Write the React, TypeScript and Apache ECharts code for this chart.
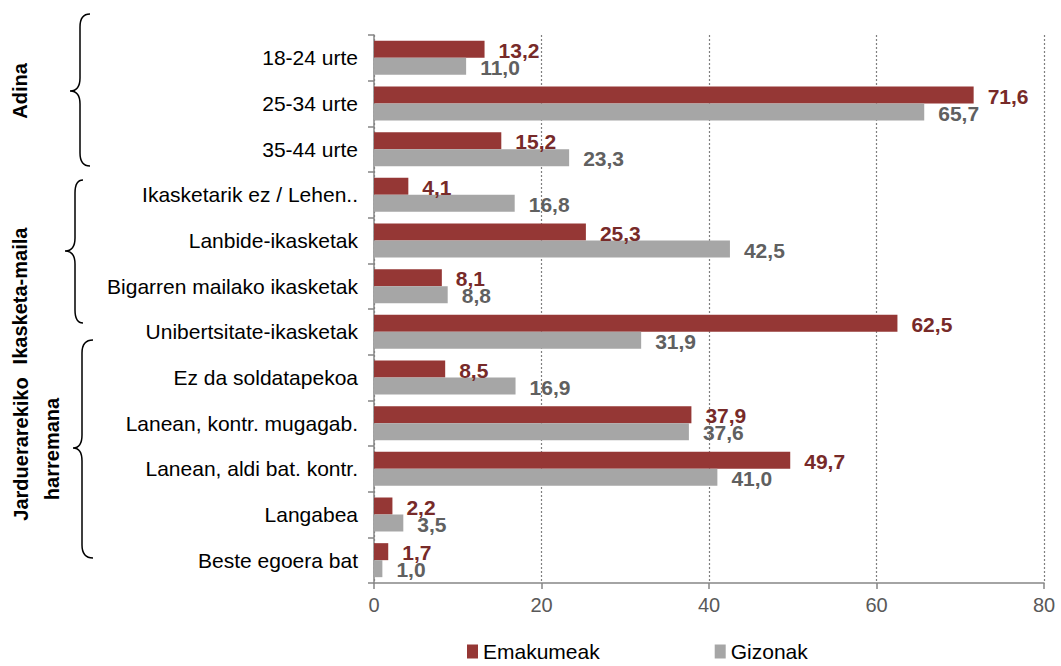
import React, { useEffect, useRef } from "react";
import * as echarts from "echarts";

const categories = [
  "18-24 urte",
  "25-34 urte",
  "35-44 urte",
  "Ikasketarik ez / Lehen..",
  "Lanbide-ikasketak",
  "Bigarren mailako ikasketak",
  "Unibertsitate-ikasketak",
  "Ez da soldatapekoa",
  "Lanean, kontr. mugagab.",
  "Lanean, aldi bat. kontr.",
  "Langabea",
  "Beste egoera bat",
];
const womenValues = [13.2, 71.6, 15.2, 4.1, 25.3, 8.1, 62.5, 8.5, 37.9, 49.7, 2.2, 1.7];
const menValues = [11.0, 65.7, 23.3, 16.8, 42.5, 8.8, 31.9, 16.9, 37.6, 41.0, 3.5, 1.0];
const seriesNames = ["Emakumeak", "Gizonak"];
const xMin = 0;
const xMax = 80;
const xInterval = 20;
const groupLabels = ["Adina", "Ikasketa-maila", "Jarduerarekiko\nharremana"];

function bracePath(ax: number, vx: number, px: number, t: number, m: number, b: number, r: number) {
  return (
    `M ${ax} ${t} Q ${vx} ${t} ${vx} ${t + r} L ${vx} ${m - r} ` +
    `Q ${vx} ${m} ${px} ${m} Q ${vx} ${m} ${vx} ${m + r} ` +
    `L ${vx} ${b - r} Q ${vx} ${b} ${ax} ${b}`
  );
}

export default function App() {
  const ref = useRef<HTMLDivElement>(null);
  useEffect(() => {
    if (!ref.current) return;
    const braces = [
      { ax: 90, vx: 80, px: 70, t: 14, m: 91, b: 166 },
      { ax: 83, vx: 75, px: 65, t: 180, m: 251, b: 323 },
      { ax: 93, vx: 82, px: 73, t: 340, m: 448, b: 558 },
    ];
    braces.forEach((bb, i) => {
      echarts.graphic.registerShape(
        "brace" + i,
        echarts.graphic.extendPath(bracePath(bb.ax, bb.vx, bb.px, bb.t, bb.m, bb.b, 13), {})
      );
    });
    const chart = echarts.init(ref.current, null, { renderer: "svg" });
    const fmt = (p: any) => Number(p.value).toFixed(1).replace(".", ",");
    const font = "'Liberation Sans', Arial, sans-serif";
    const groupPos = [
      { x: 20, y: 91 },
      { x: 20, y: 296 },
      { x: 36, y: 449 },
    ];
    chart.setOption({
      animation: false,
      backgroundColor: "#ffffff",
      textStyle: { fontFamily: font },
      grid: { left: 374, right: 17, top: 35, bottom: 83, containLabel: false },
      legend: {
        data: seriesNames,
        left: 467,
        top: 641,
        icon: "rect",
        itemWidth: 11,
        itemHeight: 14,
        itemGap: 115,
        padding: 0,
        textStyle: { fontSize: 21, color: "#000", fontFamily: font },
      },
      xAxis: {
        type: "value",
        min: xMin,
        max: xMax,
        interval: xInterval,
        axisLine: { show: true, lineStyle: { color: "#868686", width: 1.5 } },
        axisTick: { show: true, length: 6, lineStyle: { color: "#868686", width: 1.5 } },
        axisLabel: {
          margin: 12,
          fontSize: 20,
          color: "#595959",
          fontFamily: font,
        },
        splitLine: { show: true, lineStyle: { color: "#7f7f7f", type: [2, 2], width: 1.2 } },
      },
      yAxis: {
        type: "category",
        data: categories,
        inverse: true,
        axisLine: { show: true, lineStyle: { color: "#868686", width: 1.5 } },
        axisTick: { show: true, length: 6, lineStyle: { color: "#868686", width: 1.5 } },
        axisLabel: { margin: 16, fontSize: 21, color: "#000", fontFamily: font },
      },
      series: [
        {
          name: seriesNames[0],
          type: "bar",
          data: womenValues,
          barWidth: 17,
          barGap: "0%",
          itemStyle: { color: "#953735" },
          label: {
            show: true,
            position: "right",
            distance: 14,
            offset: [0, 1],
            formatter: fmt,
            fontSize: 21,
            fontWeight: "bold",
            color: "#772a29",
            fontFamily: font,
          },
        },
        {
          name: seriesNames[1],
          type: "bar",
          data: menValues,
          barWidth: 17,
          barGap: "0%",
          itemStyle: { color: "#a6a6a6" },
          label: {
            show: true,
            position: "right",
            distance: 14,
            offset: [0, 1],
            formatter: fmt,
            fontSize: 21,
            fontWeight: "bold",
            color: "#606060",
            fontFamily: font,
          },
        },
      ],
      graphic: [
        ...braces.map((_, i) => ({
          type: "brace" + i,
          x: 0,
          y: 0,
          silent: true,
          style: { fill: "none", stroke: "#000", lineWidth: 1.5 },
        })),
        ...groupLabels.map((t, i) => ({
          type: "text",
          x: groupPos[i].x,
          y: groupPos[i].y,
          rotation: Math.PI / 2,
          silent: true,
          style: {
            text: t,
            fill: "#000",
            font: `bold 20px ${font}`,
            align: "center",
            verticalAlign: "middle",
            lineHeight: 31,
          },
        })),
      ],
    });
    return () => chart.dispose();
  }, []);
  return (
    <div
      ref={ref}
      style={{ position: "fixed", left: 0, top: 0, width: 1061, height: 666, background: "#fff" }}
    />
  );
}
